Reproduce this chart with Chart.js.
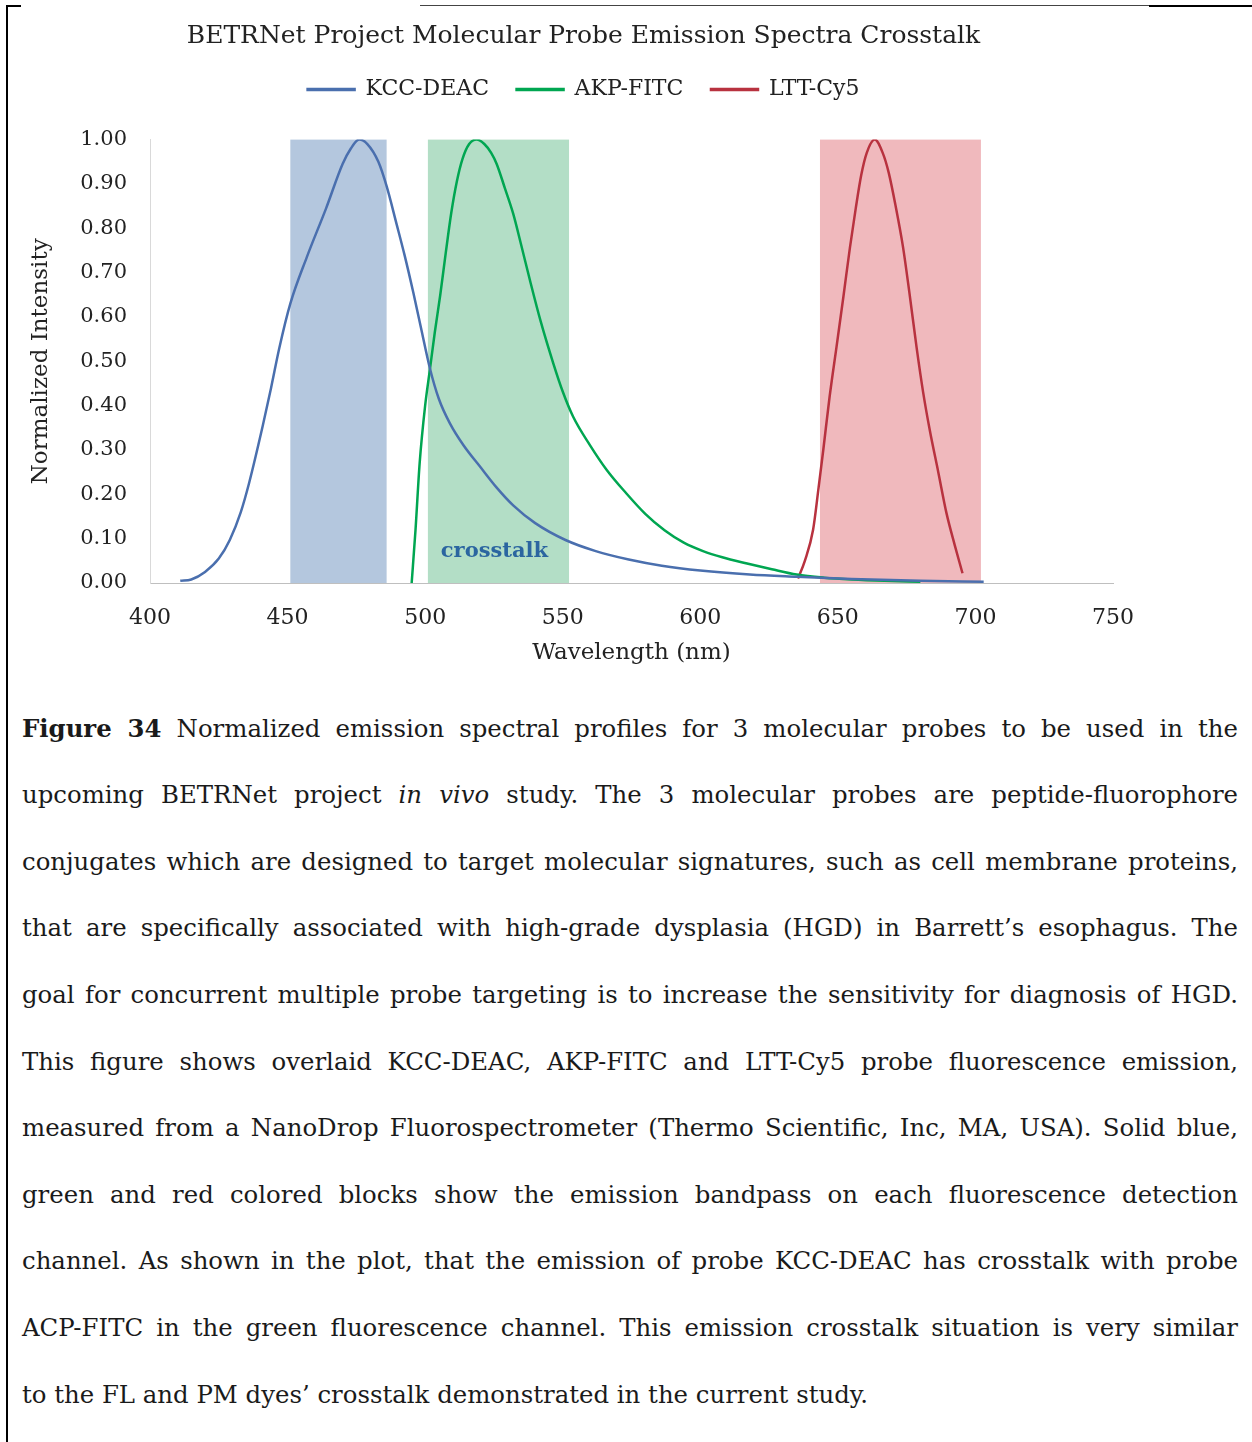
<!DOCTYPE html>
<html><head><meta charset="utf-8">
<script src="https://cdn.jsdelivr.net/npm/chart.js@4.4.1/dist/chart.umd.min.js"></script>
<style>
html,body{margin:0;padding:0;background:#fff;}
body{width:1252px;height:1442px;position:relative;overflow:hidden;}
#c{position:absolute;left:0;top:0;}
.bl{position:absolute;left:6px;top:5px;width:2px;height:1437px;background:#000;}
.tl1{position:absolute;left:6px;top:5px;width:15px;height:2px;background:#000;}
.tl2{position:absolute;left:1149px;top:5px;width:103px;height:2px;background:#000;}
.tl3{position:absolute;left:420px;top:5px;width:729px;height:1px;background:#444;}
.cap{position:absolute;left:22px;top:695.7px;width:1216px;font-family:'DejaVu Serif',serif;font-size:24.4px;color:#1a1a1a;}
.ln{height:66.6px;line-height:66.6px;text-align:justify;text-align-last:justify;white-space:nowrap;}
.ln.last{text-align-last:left;}
</style></head><body>
<div class="bl"></div><div class="tl1"></div><div class="tl2"></div><div class="tl3"></div>
<canvas id="c" width="1167" height="680"></canvas>
<div class="cap">
<div class="ln"><b>Figure 34</b> Normalized emission spectral profiles for 3 molecular probes to be used in the</div>
<div class="ln">upcoming BETRNet project <i>in vivo</i> study. The 3 molecular probes are peptide-fluorophore</div>
<div class="ln">conjugates which are designed to target molecular signatures, such as cell membrane proteins,</div>
<div class="ln">that are specifically associated with high-grade dysplasia (HGD) in Barrett’s esophagus. The</div>
<div class="ln">goal for concurrent multiple probe targeting is to increase the sensitivity for diagnosis of HGD.</div>
<div class="ln">This figure shows overlaid KCC-DEAC, AKP-FITC and LTT-Cy5 probe fluorescence emission,</div>
<div class="ln">measured from a NanoDrop Fluorospectrometer (Thermo Scientific, Inc, MA, USA). Solid blue,</div>
<div class="ln">green and red colored blocks show the emission bandpass on each fluorescence detection</div>
<div class="ln">channel. As shown in the plot, that the emission of probe KCC-DEAC has crosstalk with probe</div>
<div class="ln">ACP-FITC in the green fluorescence channel. This emission crosstalk situation is very similar</div>
<div class="ln last">to the FL and PM dyes’ crosstalk demonstrated in the current study.</div>
</div>
<script>
const chartTitle = 'BETRNet Project Molecular Probe Emission Spectra Crosstalk';
const seriesNames = ['KCC-DEAC', 'AKP-FITC', 'LTT-Cy5'];
const xTitle = 'Wavelength (nm)';
const yTitle = 'Normalized Intensity';

const kccWavelength = [411,415,420,425,429,433,436,441,444,447,451,457,464,470,473,476,479,483,486,489.6,492.5,495.7,498.5,501.7,505,509,514,520,526,532,540,551,562,574,586,600,618,635,655,680,703];
const kccIntensity = [0.005,0.008,0.025,0.055,0.097,0.16,0.225,0.355,0.44,0.53,0.63,0.735,0.845,0.945,0.98,1.0,0.99,0.95,0.895,0.81,0.74,0.655,0.575,0.485,0.415,0.36,0.31,0.262,0.215,0.175,0.135,0.097,0.072,0.053,0.039,0.028,0.019,0.014,0.009,0.005,0.003];

const akpWavelength = [495.1,496.5,498,500,501.7,503.5,505.5,507.5,509.5,511.5,513.5,516,518.7,521.5,524,526,529,532,535,538,542,546.6,550,553.8,560,566,573,580,587,594,601,608,617,626,635,645,655,667,680];
const akpIntensity = [0,0.12,0.27,0.40,0.48,0.565,0.65,0.745,0.835,0.905,0.955,0.99,1.0,0.99,0.97,0.945,0.89,0.833,0.76,0.685,0.59,0.495,0.432,0.375,0.31,0.255,0.203,0.156,0.119,0.091,0.072,0.058,0.044,0.031,0.019,0.012,0.008,0.005,0.003];

const lttWavelength = [635.5,638,641,643,644.7,647,649.5,652,654.4,656.5,658.5,660.5,663.4,666.3,668.5,671,673.7,676,678.6,681,683.4,686.5,689.5,692.5,695.3];
const lttIntensity = [0.01,0.05,0.12,0.215,0.3,0.42,0.532,0.645,0.757,0.845,0.92,0.97,1.0,0.97,0.925,0.85,0.757,0.655,0.532,0.43,0.345,0.25,0.157,0.085,0.022];

const bandStart = [451, 501, 643.5];
const bandEnd = [486, 552.3, 702];
const bandColors = ['#b4c7de', '#b3dec6', '#f0b9bd'];

const xTicksMin = 400, xTicksMax = 750, xStep = 50;
const yTicksMin = 0, yTicksMax = 1, yStep = 0.1;

const annotationText = 'crosstalk';
const annotationAt = [525.2, 0.07];

const F = "'DejaVu Serif', serif";
const lineColors = ['#4a6fae', '#00a651', '#b8323f'];

function pts(xs, ys) { return xs.map((x, i) => ({x: x, y: ys[i]})); }

const bandPlugin = {
  id: 'bands',
  beforeDatasetsDraw(chart) {
    const {ctx, scales: {x, y}} = chart;
    ctx.save();
    for (let i = 0; i < bandStart.length; i++) {
      const x0 = x.getPixelForValue(bandStart[i]);
      const x1 = x.getPixelForValue(bandEnd[i]);
      const y0 = y.getPixelForValue(1);
      const y1 = y.getPixelForValue(0);
      ctx.fillStyle = bandColors[i];
      ctx.fillRect(x0, y0, x1 - x0, y1 - y0);
    }
    ctx.restore();
  },
  afterDatasetsDraw(chart) {
    const {ctx, scales: {x, y}} = chart;
    ctx.save();
    ctx.font = "bold 21px 'DejaVu Serif', serif";
    ctx.fillStyle = '#2b65a0';
    ctx.textAlign = 'center';
    ctx.textBaseline = 'middle';
    ctx.fillText(annotationText, x.getPixelForValue(annotationAt[0]), y.getPixelForValue(annotationAt[1]));
    ctx.restore();
  }
};

const ds = (i, xs, ys) => ({
  label: seriesNames[i], data: pts(xs, ys),
  borderColor: lineColors[i], backgroundColor: lineColors[i],
  borderWidth: 2.5, pointRadius: 0, cubicInterpolationMode: 'monotone', fill: false
});

new Chart(document.getElementById('c'), {
  type: 'line',
  data: { datasets: [ds(0, kccWavelength, kccIntensity), ds(1, akpWavelength, akpIntensity), ds(2, lttWavelength, lttIntensity)] },
  options: {
    responsive: false, animation: false, devicePixelRatio: 1,
    layout: { padding: { left: 0, right: 0, top: 0, bottom: 7 } },
    plugins: {
      title: { display: true, text: chartTitle, color: '#222', font: { family: F, size: 25, weight: 'normal' }, padding: { top: 21, bottom: 0 } },
      subtitle: { display: true, text: '', position: 'top', weight: 500, font: { size: 10, lineHeight: 1 }, padding: { top: 19, bottom: 0 } },
      legend: { display: true, position: 'top', labels: { boxWidth: 47, boxHeight: 1, padding: 27.6, color: '#222', font: { family: F, size: 22 } } },
      tooltip: { enabled: false }
    },
    scales: {
      x: {
        type: 'linear', min: xTicksMin, max: xTicksMax,
        ticks: { stepSize: xStep, color: '#222', font: { family: F, size: 22 }, padding: 14 },
        grid: { display: false },
        border: { display: true, color: '#bfbfbf', width: 1 },
        title: { display: true, text: xTitle, color: '#222', font: { family: F, size: 23 }, padding: { top: 0, bottom: 6.2 } },
        afterFit: s => { s.height = 90; }
      },
      y: {
        min: yTicksMin, max: yTicksMax,
        ticks: { stepSize: yStep, color: '#222', font: { family: F, size: 21 }, padding: 15, callback: v => Number(v).toFixed(2) },
        grid: { display: false },
        border: { display: true, color: '#d9d9d9', width: 1 },
        title: { display: true, text: yTitle, color: '#222', font: { family: F, size: 23 }, padding: { top: 27.2, bottom: 0 } },
        afterFit: s => { s.width = 150; }
      },
      spacer: {
        position: 'right', display: true,
        grid: { display: false }, border: { display: false }, ticks: { display: false },
        afterFit: s => { s.width = 54; }
      }
    }
  },
  plugins: [bandPlugin]
});
</script>
</body></html>
